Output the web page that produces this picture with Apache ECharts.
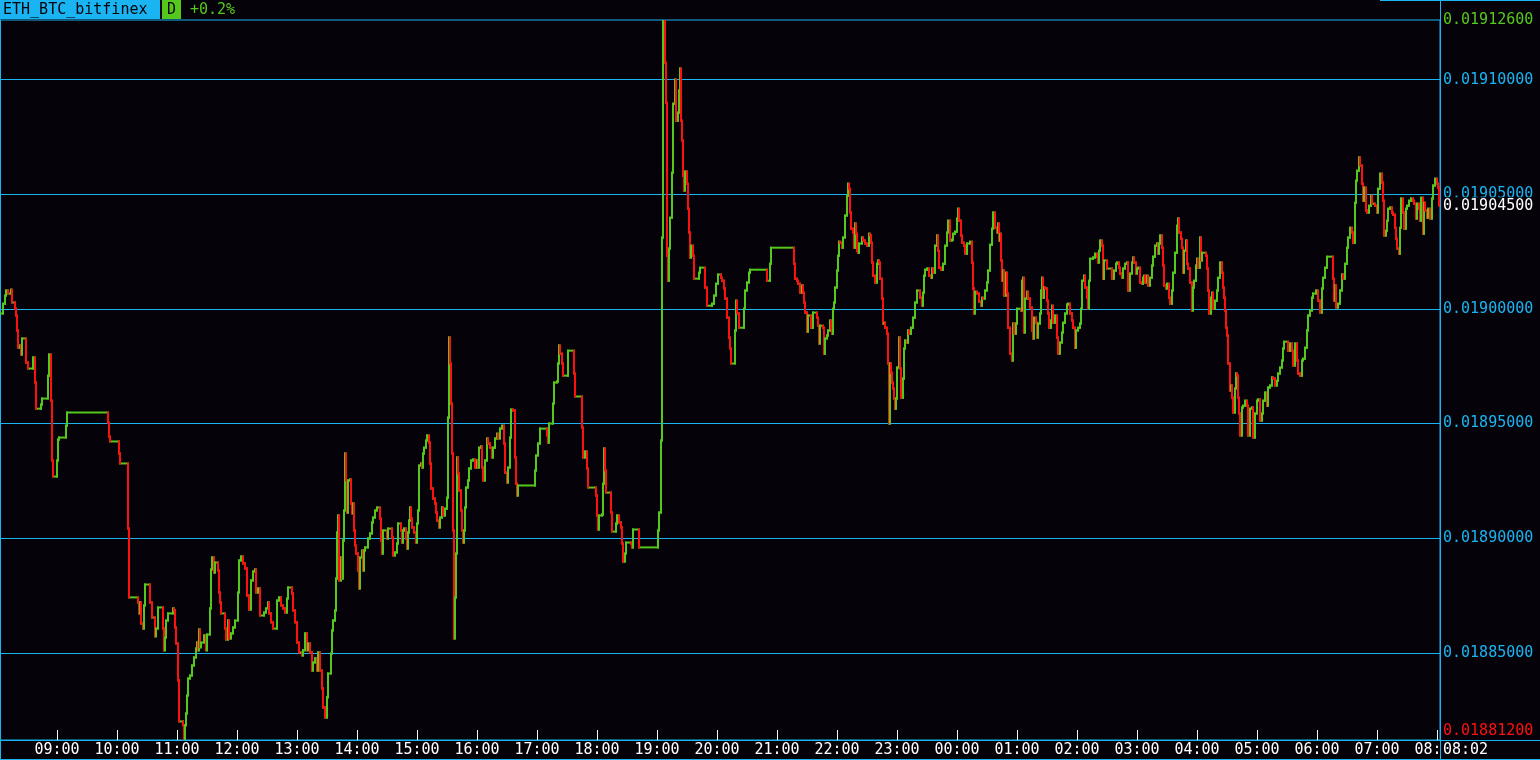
<!DOCTYPE html>
<html>
<head>
<meta charset="utf-8">
<script src="https://cdn.jsdelivr.net/npm/echarts@6/dist/echarts.min.js"></script>
<style>
html,body{margin:0;padding:0;background:#050309;}
#c{width:1540px;height:760px;}
</style>
</head>
<body>
<div id="c"></div>
<script>
// ---- DATA ----
const symbolName = 'ETH_BTC_bitfinex';
const periodLabel = 'D';
const changeLabel = '+0.2%';
const windowStart = '08:03';           // minute 0 of the window
const currentTimeLabel = '08:02';
const hourTickMinutes = [57,117,177,237,297,357,417,477,537,597,657,717,777,837,897,957,1017,1077,1137,1197,1257,1317,1377,1437];
const priceGridValues = [0.01885, 0.0189, 0.01895, 0.019, 0.01905, 0.0191];
const priceHigh = 0.019126;
const priceLow = 0.018812;
const priceLast = 0.019045;
// [minutes since window start, price]
const pricePoints = [
[0,0.0189980],[3,0.0190023],[5,0.0190058],[6,0.0190080],[8,0.0190067],[11,0.0190084],[12,0.0190028],[15,0.0190001],[16,0.0189971],[17,0.0189906],
[18,0.0189831],[20,0.0189840],[21,0.0189801],[22,0.0189871],[26,0.0189766],[28,0.0189740],[33,0.0189788],[35,0.0189679],[36,0.0189565],[41,0.0189583],
[42,0.0189609],[48,0.0189709],[49,0.0189801],[51,0.0189600],[52,0.0189339],[53,0.0189269],[57,0.0189339],[58,0.0189430],[59,0.0189439],[66,0.0189491],
[67,0.0189548],[108,0.0189504],[109,0.0189443],[110,0.0189422],[119,0.0189369],[120,0.0189326],[128,0.0189042],[129,0.0188742],[138,0.0188720],[139,0.0188672],
[140,0.0188720],[141,0.0188628],[143,0.0188606],[144,0.0188707],[145,0.0188798],[150,0.0188720],[152,0.0188654],[155,0.0188572],[156,0.0188606],[158,0.0188698],
[163,0.0188606],[164,0.0188511],[165,0.0188567],[166,0.0188641],[168,0.0188672],[173,0.0188694],[174,0.0188685],[175,0.0188611],[176,0.0188541],[178,0.0188380],
[179,0.0188201],[183,0.0188184],[184,0.0188120],[185,0.0188184],[186,0.0188236],[187,0.0188314],[188,0.0188388],[190,0.0188401],[192,0.0188445],[194,0.0188480],
[196,0.0188519],[197,0.0188545],[198,0.0188511],[199,0.0188602],[200,0.0188524],[201,0.0188545],[204,0.0188576],[206,0.0188511],[207,0.0188580],[210,0.0188694],
[211,0.0188864],[212,0.0188916],[214,0.0188850],[215,0.0188894],[218,0.0188859],[219,0.0188763],[220,0.0188720],[221,0.0188672],[225,0.0188606],[226,0.0188558],
[228,0.0188641],[229,0.0188563],[231,0.0188585],[233,0.0188611],[235,0.0188641],[238,0.0188763],[239,0.0188903],[241,0.0188920],[243,0.0188890],[245,0.0188868],
[247,0.0188750],[249,0.0188689],[251,0.0188816],[253,0.0188855],[255,0.0188864],[256,0.0188763],[258,0.0188781],[260,0.0188663],[264,0.0188676],[266,0.0188694],
[268,0.0188720],[269,0.0188672],[271,0.0188633],[273,0.0188606],[277,0.0188728],[279,0.0188742],[281,0.0188707],[283,0.0188694],[285,0.0188676],[287,0.0188737],
[288,0.0188785],[292,0.0188759],[293,0.0188685],[295,0.0188633],[297,0.0188545],[299,0.0188502],[302,0.0188489],[303,0.0188511],[305,0.0188585],[307,0.0188511],
[308,0.0188541],[310,0.0188502],[312,0.0188423],[313,0.0188458],[315,0.0188476],[317,0.0188423],[318,0.0188502],[320,0.0188423],[322,0.0188345],[323,0.0188262],
[325,0.0188218],[327,0.0188306],[328,0.0188410],[331,0.0188497],[332,0.0188598],[333,0.0188641],[335,0.0188685],[336,0.0188824],[337,0.0189025],[338,0.0189099],
[339,0.0188816],[341,0.0188916],[342,0.0188824],[343,0.0188990],[344,0.0189121],[345,0.0189369],[346,0.0189252],[347,0.0189112],[348,0.0189252],[350,0.0189256],
[351,0.0189151],[352,0.0189108],[353,0.0189151],[354,0.0189034],[355,0.0188968],[356,0.0188933],[358,0.0188859],[359,0.0188781],[360,0.0188916],[362,0.0188946],
[363,0.0188859],[364,0.0188946],[365,0.0188960],[368,0.0188999],[370,0.0189021],[372,0.0189069],[373,0.0189090],[375,0.0189121],[377,0.0189134],[380,0.0189086],
[381,0.0188990],[382,0.0188933],[383,0.0189034],[387,0.0188999],[388,0.0189042],[392,0.0189003],[393,0.0188925],[395,0.0188938],[397,0.0188977],[398,0.0189064],
[401,0.0189034],[402,0.0188981],[403,0.0189034],[404,0.0189042],[406,0.0188999],[407,0.0188955],[408,0.0189025],[409,0.0189077],[410,0.0189134],[411,0.0189086],
[412,0.0189047],[414,0.0189025],[416,0.0188981],[417,0.0189064],[418,0.0189121],[419,0.0189317],[421,0.0189326],[422,0.0189308],[423,0.0189369],[424,0.0189395],
[426,0.0189426],[427,0.0189448],[429,0.0189417],[430,0.0189326],[431,0.0189217],[433,0.0189173],[435,0.0189151],[436,0.0189112],[437,0.0189077],[439,0.0189047],
[440,0.0189090],[442,0.0189134],[443,0.0189099],[445,0.0189129],[447,0.0189177],[448,0.0189526],[449,0.0189875],[450,0.0189762],[451,0.0189587],[452,0.0189369],
[453,0.0189034],[454,0.0188563],[455,0.0188742],[456,0.0188933],[457,0.0189352],[458,0.0189282],[459,0.0189208],[461,0.0189121],[462,0.0189034],[463,0.0188981],
[464,0.0189034],[465,0.0189134],[466,0.0189221],[468,0.0189252],[469,0.0189304],[471,0.0189339],[473,0.0189343],[475,0.0189308],[477,0.0189339],[478,0.0189308],
[479,0.0189395],[481,0.0189400],[482,0.0189308],[483,0.0189252],[485,0.0189339],[487,0.0189435],[488,0.0189413],[490,0.0189395],[492,0.0189352],[493,0.0189395],
[495,0.0189435],[497,0.0189456],[498,0.0189435],[500,0.0189478],[502,0.0189491],[504,0.0189413],[505,0.0189286],[507,0.0189243],[508,0.0189308],[510,0.0189439],
[511,0.0189561],[513,0.0189557],[515,0.0189352],[516,0.0189238],[517,0.0189186],[518,0.0189230],[535,0.0189295],[536,0.0189361],[538,0.0189413],[540,0.0189478],
[547,0.0189448],[548,0.0189417],[549,0.0189500],[553,0.0189587],[554,0.0189679],[557,0.0189683],[558,0.0189762],[559,0.0189840],[560,0.0189805],[562,0.0189762],
[563,0.0189709],[568,0.0189818],[574,0.0189718],[575,0.0189618],[582,0.0189483],[583,0.0189352],[585,0.0189378],[587,0.0189304],[588,0.0189221],[596,0.0189186],
[597,0.0189099],[598,0.0189038],[599,0.0189099],[602,0.0189103],[603,0.0189238],[604,0.0189391],[605,0.0189295],[606,0.0189199],[611,0.0189112],[612,0.0189029],
[616,0.0189064],[617,0.0189099],[619,0.0189069],[621,0.0189047],[622,0.0188977],[623,0.0188898],[625,0.0188933],[626,0.0188981],[631,0.0188977],[632,0.0188960],
[633,0.0189038],[639,0.0188960],[658,0.0189034],[659,0.0189112],[661,0.0189426],[662,0.0190311],[663,0.0191260],[665,0.0191074],[666,0.0190899],[667,0.0190232],
[668,0.0190123],[669,0.0190263],[670,0.0190398],[672,0.0190594],[673,0.0190895],[675,0.0191000],[676,0.0190821],[678,0.0190856],[679,0.0190952],[680,0.0191048],
[681,0.0190821],[682,0.0190734],[683,0.0190581],[684,0.0190516],[685,0.0190599],[687,0.0190546],[688,0.0190437],[689,0.0190333],[690,0.0190224],[691,0.0190276],
[693,0.0190232],[694,0.0190132],[699,0.0190158],[700,0.0190180],[705,0.0190093],[707,0.0190014],[712,0.0190023],[714,0.0190058],[716,0.0190110],[718,0.0190150],
[721,0.0190136],[722,0.0190123],[724,0.0190089],[725,0.0190045],[727,0.0189962],[729,0.0189875],[730,0.0189827],[731,0.0189762],[735,0.0189906],[736,0.0190036],
[737,0.0189980],[739,0.0189918],[744,0.0190001],[745,0.0190080],[747,0.0190115],[749,0.0190158],[750,0.0190171],[767,0.0190123],[770,0.0190197],[771,0.0190267],
[794,0.0190197],[795,0.0190132],[797,0.0190123],[798,0.0190110],[800,0.0190071],[802,0.0190102],[803,0.0190071],[804,0.0190028],[805,0.0189984],[807,0.0189901],
[808,0.0189971],[811,0.0189918],[813,0.0189984],[817,0.0189962],[818,0.0189927],[819,0.0189849],[820,0.0189927],[823,0.0189918],[824,0.0189805],[825,0.0189871],
[827,0.0189884],[828,0.0189906],[830,0.0189949],[831,0.0189914],[832,0.0189892],[833,0.0190001],[834,0.0190028],[835,0.0190093],[837,0.0190167],[838,0.0190232],
[839,0.0190293],[840,0.0190289],[842,0.0190267],[843,0.0190311],[845,0.0190407],[847,0.0190494],[848,0.0190546],[849,0.0190524],[850,0.0190420],[851,0.0190350],
[853,0.0190333],[854,0.0190267],[855,0.0190372],[856,0.0190328],[857,0.0190254],[858,0.0190245],[859,0.0190285],[862,0.0190311],[863,0.0190298],[865,0.0190285],
[867,0.0190276],[869,0.0190328],[870,0.0190320],[871,0.0190289],[872,0.0190202],[873,0.0190145],[875,0.0190115],[877,0.0190197],[878,0.0190211],[879,0.0190202],
[880,0.0190132],[882,0.0190045],[883,0.0189936],[884,0.0189940],[885,0.0189918],[887,0.0189892],[888,0.0189762],[889,0.0189500],[890,0.0189762],[891,0.0189722],
[892,0.0189679],[893,0.0189653],[894,0.0189609],[895,0.0189565],[896,0.0189609],[897,0.0189744],[899,0.0189875],[900,0.0189740],[901,0.0189613],[903,0.0189696],
[904,0.0189827],[905,0.0189862],[907,0.0189853],[908,0.0189906],[909,0.0189892],[911,0.0189918],[913,0.0189962],[915,0.0190028],[917,0.0190080],[920,0.0190049],
[922,0.0190014],[923,0.0190071],[924,0.0190145],[925,0.0190171],[927,0.0190176],[929,0.0190145],[931,0.0190136],[932,0.0190176],[933,0.0190158],[935,0.0190276],
[937,0.0190320],[938,0.0190254],[939,0.0190180],[941,0.0190171],[943,0.0190197],[945,0.0190276],[947,0.0190333],[948,0.0190385],[950,0.0190298],[952,0.0190302],
[953,0.0190328],[955,0.0190337],[957,0.0190394],[958,0.0190437],[959,0.0190385],[961,0.0190320],[962,0.0190289],[964,0.0190276],[965,0.0190241],[967,0.0190285],
[970,0.0190293],[972,0.0190202],[973,0.0190089],[974,0.0189980],[975,0.0190075],[977,0.0190067],[979,0.0190032],[981,0.0190014],[982,0.0190049],[983,0.0190045],
[985,0.0190080],[987,0.0190115],[988,0.0190167],[990,0.0190280],[992,0.0190350],[993,0.0190420],[995,0.0190354],[997,0.0190333],[998,0.0190372],[999,0.0190298],
[1000,0.0190328],[1001,0.0190211],[1002,0.0190123],[1003,0.0190167],[1004,0.0190058],[1006,0.0190158],[1007,0.0190067],[1008,0.0189918],[1010,0.0189805],[1012,0.0189775],
[1013,0.0189936],[1014,0.0189892],[1016,0.0189936],[1017,0.0190001],[1021,0.0189993],[1022,0.0190123],[1023,0.0190136],[1024,0.0189897],[1025,0.0190045],[1027,0.0190075],
[1028,0.0190045],[1030,0.0190006],[1032,0.0189906],[1033,0.0189871],[1034,0.0189962],[1036,0.0189940],[1037,0.0189875],[1038,0.0189936],[1040,0.0189980],[1041,0.0190080],
[1042,0.0190136],[1043,0.0190049],[1044,0.0190093],[1045,0.0190089],[1047,0.0190036],[1048,0.0189980],[1049,0.0189918],[1051,0.0189949],[1052,0.0190014],[1053,0.0189940],
[1055,0.0189971],[1057,0.0189875],[1058,0.0189805],[1060,0.0189853],[1062,0.0189897],[1063,0.0189940],[1065,0.0189980],[1067,0.0190019],[1068,0.0190023],[1070,0.0189980],
[1072,0.0189949],[1073,0.0189918],[1075,0.0189831],[1076,0.0189906],[1078,0.0189918],[1080,0.0189936],[1081,0.0190001],[1082,0.0190123],[1084,0.0190145],[1085,0.0190093],
[1087,0.0190049],[1088,0.0190001],[1089,0.0190123],[1090,0.0190219],[1093,0.0190224],[1095,0.0190241],[1097,0.0190228],[1098,0.0190202],[1099,0.0190254],[1100,0.0190298],
[1102,0.0190276],[1103,0.0190132],[1104,0.0190211],[1107,0.0190176],[1112,0.0190132],[1114,0.0190167],[1116,0.0190197],[1117,0.0190202],[1119,0.0190180],[1120,0.0190154],
[1122,0.0190136],[1123,0.0190176],[1125,0.0190197],[1127,0.0190202],[1128,0.0190080],[1130,0.0190154],[1132,0.0190202],[1133,0.0190224],[1134,0.0190202],[1136,0.0190154],
[1137,0.0190176],[1138,0.0190180],[1140,0.0190115],[1142,0.0190110],[1143,0.0190136],[1144,0.0190145],[1145,0.0190115],[1147,0.0190145],[1148,0.0190102],[1150,0.0190136],
[1152,0.0190189],[1153,0.0190228],[1155,0.0190276],[1157,0.0190285],[1158,0.0190241],[1159,0.0190285],[1160,0.0190320],[1162,0.0190267],[1163,0.0190189],[1164,0.0190102],
[1166,0.0190089],[1167,0.0190110],[1169,0.0190049],[1170,0.0190023],[1172,0.0190080],[1173,0.0190158],[1175,0.0190245],[1177,0.0190363],[1178,0.0190394],[1179,0.0190333],
[1181,0.0190306],[1182,0.0190267],[1183,0.0190158],[1184,0.0190254],[1186,0.0190298],[1187,0.0190197],[1188,0.0190176],[1190,0.0190115],[1192,0.0189993],[1193,0.0190093],
[1194,0.0190123],[1196,0.0190189],[1197,0.0190219],[1198,0.0190180],[1200,0.0190311],[1201,0.0190211],[1202,0.0190245],[1206,0.0190232],[1207,0.0190176],[1208,0.0190080],
[1209,0.0189980],[1211,0.0190049],[1212,0.0190071],[1213,0.0190001],[1215,0.0190036],[1217,0.0190080],[1218,0.0190136],[1220,0.0190202],[1222,0.0190158],[1223,0.0190093],
[1224,0.0190049],[1225,0.0189993],[1226,0.0189918],[1227,0.0189884],[1228,0.0189762],[1230,0.0189644],[1231,0.0189666],[1232,0.0189613],[1233,0.0189548],[1235,0.0189653],
[1236,0.0189718],[1237,0.0189709],[1238,0.0189613],[1239,0.0189544],[1240,0.0189448],[1242,0.0189570],[1243,0.0189578],[1245,0.0189600],[1247,0.0189578],[1248,0.0189448],
[1250,0.0189565],[1252,0.0189570],[1253,0.0189439],[1255,0.0189544],[1257,0.0189600],[1258,0.0189605],[1260,0.0189513],[1262,0.0189544],[1263,0.0189600],[1265,0.0189635],
[1267,0.0189578],[1268,0.0189657],[1270,0.0189666],[1272,0.0189701],[1273,0.0189696],[1275,0.0189666],[1277,0.0189687],[1278,0.0189718],[1280,0.0189744],[1282,0.0189775],
[1283,0.0189827],[1284,0.0189857],[1288,0.0189818],[1290,0.0189849],[1292,0.0189818],[1293,0.0189753],[1295,0.0189849],[1297,0.0189775],[1298,0.0189718],[1300,0.0189709],
[1302,0.0189775],[1303,0.0189783],[1305,0.0189831],[1307,0.0189906],[1308,0.0189971],[1310,0.0189993],[1312,0.0190049],[1313,0.0190067],[1316,0.0190080],[1318,0.0190036],
[1320,0.0189984],[1322,0.0190089],[1323,0.0190136],[1325,0.0190180],[1327,0.0190228],[1333,0.0190132],[1334,0.0190036],[1335,0.0190102],[1336,0.0190006],[1338,0.0190023],
[1340,0.0190080],[1342,0.0190150],[1343,0.0190132],[1345,0.0190197],[1347,0.0190267],[1348,0.0190311],[1350,0.0190354],[1352,0.0190333],[1353,0.0190289],[1355,0.0190463],
[1356,0.0190559],[1357,0.0190603],[1359,0.0190660],[1360,0.0190625],[1362,0.0190546],[1363,0.0190472],[1364,0.0190529],[1366,0.0190429],[1367,0.0190420],[1369,0.0190450],
[1371,0.0190494],[1372,0.0190459],[1375,0.0190450],[1377,0.0190420],[1378,0.0190524],[1380,0.0190590],[1382,0.0190551],[1383,0.0190472],[1384,0.0190320],[1386,0.0190341],
[1387,0.0190385],[1388,0.0190437],[1390,0.0190442],[1392,0.0190420],[1393,0.0190411],[1395,0.0190354],[1396,0.0190306],[1397,0.0190263],[1399,0.0190241],[1400,0.0190354],
[1401,0.0190481],[1403,0.0190420],[1404,0.0190350],[1406,0.0190437],[1407,0.0190450],[1409,0.0190472],[1411,0.0190481],[1413,0.0190472],[1414,0.0190459],[1416,0.0190394],
[1417,0.0190459],[1419,0.0190437],[1420,0.0190385],[1421,0.0190485],[1423,0.0190328],[1424,0.0190463],[1425,0.0190429],[1427,0.0190398],[1428,0.0190437],[1430,0.0190394],
[1432,0.0190481],[1433,0.0190538],[1435,0.0190568],[1437,0.0190546],[1438,0.0190529],[1439,0.0190450]
];

// ---- STYLE ----
const BG = '#050309';
const CYAN = '#1ab4f2';
const GREEN = '#55c81e';
const RED = '#ff1010';
const WHITE = '#ffffff';
const MONO = '"DejaVu Sans Mono", "Liberation Mono", monospace';

const startMin = parseInt(windowStart.split(':')[0]) * 60 + parseInt(windowStart.split(':')[1]);
function fmtTime(v) {
  const m = ((startMin + Math.round(v)) % 1440 + 1440) % 1440;
  const h = Math.floor(m / 60), mm = m % 60;
  return (h < 10 ? '0' : '') + h + ':' + (mm < 10 ? '0' : '') + mm;
}
const near = (a, b) => Math.abs(a - b) < 1e-9;

const hzData = [], vtData = [];
for (let i = 1; i < pricePoints.length; i++) {
  const [t0, p0] = pricePoints[i - 1];
  const [t1, p1] = pricePoints[i];
  hzData.push([t0, t1, p0]);
  vtData.push([t1, p0, p1]);
}

const chart = echarts.init(document.getElementById('c'), null, { renderer: 'canvas' });

const yLabelValues = priceGridValues.concat([priceHigh, priceLow, priceLast]);

chart.setOption({
  animation: false,
  backgroundColor: BG,
  grid: { left: 0, right: 100, top: 20, bottom: 20, show: true, borderColor: CYAN, borderWidth: 1, backgroundColor: BG, containLabel: false, outerBoundsMode: 'none' },
  xAxis: {
    type: 'value', min: 0, max: 1440,
    axisLine: { show: true, lineStyle: { color: CYAN, width: 1 } },
    axisTick: { show: true, inside: true, length: 10, lineStyle: { color: WHITE, width: 1 }, customValues: hourTickMinutes },
    axisLabel: { show: true, customValues: hourTickMinutes, color: WHITE, fontFamily: MONO, fontSize: 15, margin: 3, formatter: v => fmtTime(v) },
    splitLine: { show: false }
  },
  yAxis: {
    type: 'value', position: 'right', min: priceLow, max: priceHigh, scale: true,
    axisLine: { show: true, lineStyle: { color: CYAN, width: 1 } },
    axisTick: { show: false, customValues: priceGridValues },
    splitLine: { show: true, lineStyle: { color: CYAN, width: 1, type: 'solid' } },
    axisLabel: {
      show: true, customValues: yLabelValues, margin: 3, fontFamily: MONO, fontSize: 15, color: CYAN, hideOverlap: false,
      formatter: v => {
        const s = v.toFixed(8);
        if (near(v, priceHigh)) return '{hi|' + s + '}';
        if (near(v, priceLow)) return '{lo|' + s + '}';
        if (near(v, priceLast)) return '{last|' + s + '}';
        return '{n|' + s + '}';
      },
      rich: {
        n: { color: CYAN, fontFamily: MONO, fontSize: 15 },
        hi: { color: GREEN, fontFamily: MONO, fontSize: 15 },
        lo: { color: RED, fontFamily: MONO, fontSize: 15, padding: [0, 0, 18, 0] },
        last: { color: WHITE, fontFamily: MONO, fontSize: 15, backgroundColor: BG, padding: [1, 0, 1, 0] }
      }
    }
  },
  series: [
    {
      type: 'custom', name: 'flat', z: 2, clip: true,
      encode: { x: [0, 1], y: 2 },
      data: hzData,
      renderItem: (params, api) => {
        const a = api.coord([api.value(0), api.value(2)]);
        const b = api.coord([api.value(1), api.value(2)]);
        return { type: 'line', shape: { x1: a[0], y1: a[1], x2: b[0], y2: b[1] }, style: { stroke: GREEN, lineWidth: 2, lineCap: 'square' } };
      }
    },
    {
      type: 'custom', name: 'move', z: 3, clip: true,
      encode: { x: 0, y: [1, 2] },
      data: vtData,
      renderItem: (params, api) => {
        const p0 = api.value(1), p1 = api.value(2);
        const a = api.coord([api.value(0), p0]);
        const b = api.coord([api.value(0), p1]);
        return { type: 'line', shape: { x1: a[0], y1: a[1], x2: b[0], y2: b[1] }, style: { stroke: p1 >= p0 ? GREEN : RED, lineWidth: 2, lineCap: 'square' } };
      }
    }
  ],
  graphic: [
    { type: 'rect', z: 100, shape: { x: 0, y: 0, width: 160, height: 19 }, style: { fill: CYAN } },
    { type: 'text', z: 101, x: 3, y: 10, style: { text: symbolName, fill: '#050309', font: '15px ' + MONO, textVerticalAlign: 'middle' } },
    { type: 'rect', z: 100, shape: { x: 162, y: 0, width: 19, height: 19 }, style: { fill: GREEN } },
    { type: 'text', z: 101, x: 167, y: 10, style: { text: periodLabel, fill: '#050309', font: '15px ' + MONO, textVerticalAlign: 'middle' } },
    { type: 'text', z: 101, x: 190, y: 10, style: { text: changeLabel, fill: GREEN, font: '15px ' + MONO, textVerticalAlign: 'middle' } },
    { type: 'rect', z: 100, shape: { x: 1441, y: 741, width: 99, height: 18 }, style: { fill: BG } },
    { type: 'text', z: 101, x: 1443, y: 750, style: { text: currentTimeLabel, fill: WHITE, font: '15px ' + MONO, textVerticalAlign: 'middle' } },
    { type: 'line', z: 100, shape: { x1: 1380, y1: 0.5, x2: 1540, y2: 0.5 }, style: { stroke: CYAN, lineWidth: 1 } },
    { type: 'line', z: 100, shape: { x1: 1440, y1: 740.5, x2: 1540, y2: 740.5 }, style: { stroke: CYAN, lineWidth: 1 } },
    { type: 'line', z: 100, shape: { x1: 0, y1: 759.5, x2: 1540, y2: 759.5 }, style: { stroke: CYAN, lineWidth: 1 } },
    { type: 'line', z: 100, shape: { x1: 0.5, y1: 740, x2: 0.5, y2: 760 }, style: { stroke: CYAN, lineWidth: 1 } },
    { type: 'line', z: 100, shape: { x1: 1440.5, y1: 0, x2: 1440.5, y2: 760 }, style: { stroke: CYAN, lineWidth: 1 } }
  ]
});
</script>
</body>
</html>
